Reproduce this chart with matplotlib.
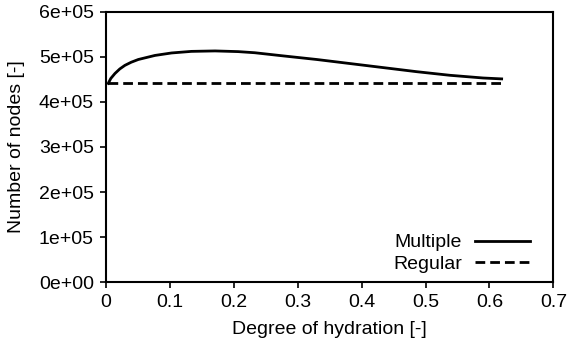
import matplotlib
matplotlib.use("Agg")
import matplotlib.pyplot as plt

plt.rcParams['font.family'] = ['Liberation Sans', 'DejaVu Sans']
plt.rcParams['font.size'] = 14

hydration = [0.004, 0.008, 0.0145, 0.022, 0.030, 0.040, 0.051, 0.077, 0.103, 0.134, 0.171, 0.207, 0.233,
             0.2775, 0.330, 0.382, 0.434, 0.486, 0.538, 0.590, 0.619]
multiple = [441000, 452000, 463000, 473000, 481000, 488000, 494000, 503000, 508500, 512000, 513000, 511500, 509000,
            502000, 494000, 485000, 476000, 467000, 459000, 453000, 451000]
regular_x = [0.004, 0.619]
regular = [441000, 441000]

fig = plt.figure(figsize=(5.7, 3.42), dpi=100)
ax = fig.add_axes([0.1854, 0.1746, 0.7856, 0.7912])

ax.plot(hydration, multiple, color='black', lw=2, label='Multiple')
ax.plot(regular_x, regular, color='black', lw=2, ls=(0, (3.5, 1.8)), label='Regular')

ax.set_xlim(0, 0.7)
ax.set_ylim(0, 600000)
ax.set_xticks([0, 0.1, 0.2, 0.3, 0.4, 0.5, 0.6, 0.7])
ax.set_xticklabels(['0', '0.1', '0.2', '0.3', '0.4', '0.5', '0.6', '0.7'])
yt = [0, 100000, 200000, 300000, 400000, 500000, 600000]
ax.set_yticks(yt)
ax.set_yticklabels(['0e+00', '1e+05', '2e+05', '3e+05', '4e+05', '5e+05', '6e+05'])
ax.tick_params(direction='out', length=4.5, width=1.2, pad=4)
for s in ax.spines.values():
    s.set_linewidth(1.5)

ax.set_xlabel('Degree of hydration [-]', labelpad=7)
ax.set_ylabel('Number of nodes [-]', labelpad=10)

ax.legend(loc='lower right', frameon=False, markerfirst=False, handlelength=2.85,
          borderaxespad=0, borderpad=0, labelspacing=0.2, handletextpad=0.65,
          bbox_to_anchor=(0.9475, 0.035))

fig.savefig('out.png', dpi=100)
